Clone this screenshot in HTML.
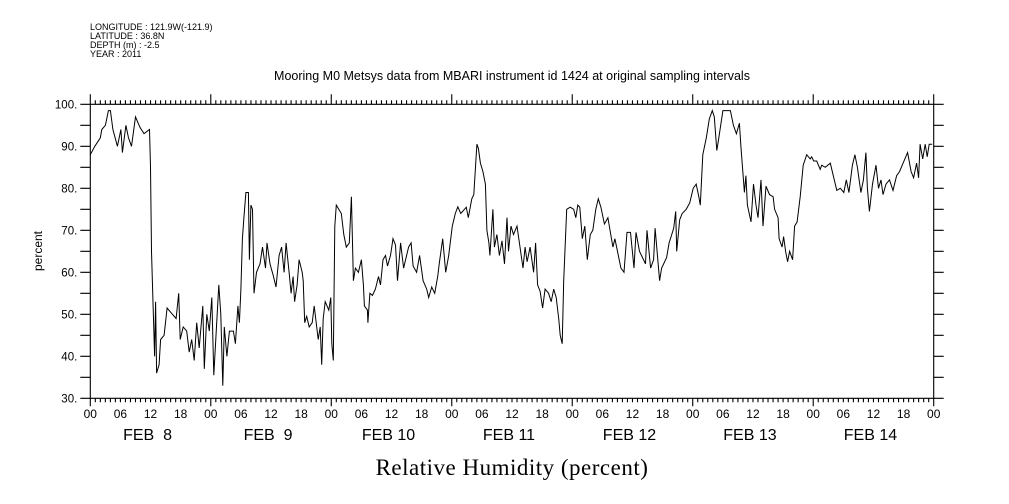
<!DOCTYPE html>
<html><head><meta charset="utf-8"><style>
body{margin:0;background:#fff;}
svg{display:block;font-family:"Liberation Sans",sans-serif;}
</style></head><body>
<svg id="chart" width="1009" height="504" viewBox="0 0 1009 504" xmlns="http://www.w3.org/2000/svg">
<rect width="1009" height="504" fill="#fff"/>
<g font-size="9" fill="#000">
<text x="90" y="30">LONGITUDE : 121.9W(-121.9)</text>
<text x="90" y="39">LATITUDE : 36.8N</text>
<text x="90" y="48">DEPTH (m) : -2.5</text>
<text x="90" y="57">YEAR : 2011</text>
</g>
<text x="512" y="80" font-size="12.5" text-anchor="middle">Mooring M0 Metsys data from MBARI instrument id 1424 at original sampling intervals</text>
<text x="0" y="0" font-size="12" text-anchor="middle" transform="translate(42,251) rotate(-90)">percent</text>
<text x="512" y="475" font-family="Liberation Serif,serif" font-size="23" text-anchor="middle" letter-spacing="0.5">Relative Humidity (percent)</text>
<g id="axes"></g>
<path id="line" fill="none" stroke="#000" stroke-width="1"/>
</svg>
<script>
const hours=[0,0.9,2,2.3,3,3.6,4,4.5,5.4,6.1,6.4,7.1,7.6,8.2,9,9.9,10.7,11.8,12,12.2,12.5,12.8,13,13.2,13.7,14,14.7,15.3,16,17.1,17.6,17.9,18.5,19.2,19.7,20.2,20.7,21.2,21.7,22.4,22.7,23.2,23.7,24.2,24.6,25.6,26,26.4,26.7,27.2,27.7,28.5,28.9,29.4,29.7,30,30.3,30.6,31,31.5,31.7,32,32.3,32.6,33.1,33.8,34.3,34.9,35.2,35.8,36.5,37,37.6,38.1,38.6,39,39.6,40,40.4,40.7,41.2,41.6,42.2,42.4,42.7,43.1,43.6,44.2,44.6,45.4,45.8,46.1,46.4,46.8,47.5,47.9,48.1,48.4,48.7,49,50,50.5,51,51.6,52,52.4,52.8,53.4,54,54.4,54.6,55.2,55.3,55.7,56.2,56.8,57.4,57.8,58.3,58.8,59.2,59.8,60.3,60.8,61.2,61.8,62.4,63,63.4,63.9,64.3,65,65.6,66.3,67,67.4,68,68.6,69.2,69.5,70.2,70.8,71.4,72.1,72.7,73.2,73.8,74.9,75.3,76,76.4,77,77.3,77.7,78.2,78.7,79,79.4,79.6,80.2,80.5,81,81.5,82,82.5,83,83.3,83.8,84.3,85,85.6,86.2,86.6,87,87.6,88.3,88.7,89.1,89.6,90.1,90.6,91.3,91.8,92.3,92.8,93.3,93.6,94,94.3,94.9,95.6,96.3,96.7,97.1,97.5,98,98.5,99,99.6,100.1,100.7,101.2,101.7,102.4,103.1,103.6,104.1,104.5,105.1,105.7,106.3,106.9,107.6,108.3,108.7,109.4,110,110.6,110.9,111.6,112.2,112.5,113.4,113.8,114.8,115.3,115.7,116.2,116.6,116.8,117.4,117.9,118.7,119.4,120.1,120.7,121.2,121.5,122,122.7,123.3,123.9,124.3,124.8,125.2,126,127.5,128.1,128.7,129.3,129.6,130.3,130.6,130.9,131.6,132.1,132.6,133,133.6,134,134.6,135.3,136,136.3,137,137.2,137.8,138.1,138.5,138.9,139.3,139.9,140.3,140.8,141.4,142,142.7,143.4,143.7,144.1,144.7,145.4,145.7,146.4,147.4,148,148.7,149.4,150.1,150.6,151.1,151.8,152.3,152.8,153.5,154,154.5,154.8,155.2,155.8,156.5,157,157.5,157.9,158.5,159.2,159.9,160.6,161.2,161.9,162.8,163.5,164,164.6,165,165.3,165.8,166.3,166.7,167.1,167.7];
const humidity=[88,90,92,94,95,98.5,98.5,94,90,94,88.5,95,92,90,97,94.5,93,94,85,65,52,40,53,36,38,44,45,51.5,50.5,49,55,44,47,46,41,44,39,48,42,52,37,50,46,54,35.5,57,50,33,47,40,46,46,43,52,48,56,68,73,79,79,63,76,75,55,60,62,66,61,67,62,59,56.5,64,66,60,67,60,55,59,53,57,63,60,58,48,49.5,47,48,52,44,47,38,49,53,51,54,43,39,71,76,74,69,66,67,78,58,61,60,63,57,52,51,48,55,54.5,56,59,57,63,64,61.5,64,68,66.5,58,67,61,64,66,67,61.5,60,64,58,56,54,56.5,55,59,62,68,60,64,71,74,75.6,74,75.5,73,77.5,78.5,90.5,89.5,86,84,81,70,67,64,75,66,69,64,67.5,62,73,65,71,69,71,66,61,66,62.5,66,60,67,57,55.5,51.5,56,55,53,56,54,49,45,43,58,75,75.5,75,73,76,75.5,68,71,63,69,70,75,77.5,75.5,71.5,73,69.5,66,68,64.5,61,60,69.5,69.5,61,69.5,65,63.5,62,70,61,63,70.5,58,61,63.5,67,68.5,70.5,74.5,65,72.5,74,75,76.5,80,81,78,76,88,92,96.5,98.5,97,89,92,98.5,98.5,95,93,95.5,90,79,83,76,72,81,76,73,82,71,80.5,78.5,78,75,73,68,66,68.5,65,62.5,65,63,71,72,78,85.5,88,87,87.5,86.5,86.5,84.5,85.5,85,86,83,79.5,80,79,82,79,85.5,88,85,79,82,88.5,80,74.5,81,85.5,80,82,78.5,81,82,79.5,83,84,86,88.5,84,82.5,86,82.5,90.5,87,90.5,87.5,90.5,90.5];
const yTicks=[30,35,40,45,50,55,60,65,70,75,80,85,90,95,100];
const yLabels=["30.","40.","50.","60.","70.","80.","90.","100."];
const hourLabels=["00","06","12","18"];
const dayLabels=["FEB  8","FEB  9","FEB 10","FEB 11","FEB 12","FEB 13","FEB 14"];
const X0=90.3,X1=933.7,Y0=398.3,Y1=104.3,HMAX=168,VMIN=30,VMAX=100;
function xs(h){return X0+(X1-X0)*h/HMAX;}
function ys(v){return Y0-(Y0-Y1)*(v-VMIN)/(VMAX-VMIN);}
const NS="http://www.w3.org/2000/svg";
const axes=document.getElementById('axes');
function mk(tag,attrs,parent){const e=document.createElementNS(NS,tag);for(const k in attrs)e.setAttribute(k,attrs[k]);(parent||axes).appendChild(e);return e;}
let d=`M${X0},${Y1}H${X1}M${X0},${Y0}H${X1}M${X0},${Y1-10}V${Y0}M${X1},${Y1-10}V${Y0}`;
yTicks.forEach(v=>{const y=ys(v);d+=`M${X0-10},${y}H${X0}M${X1},${y}H${X1+10}`;});
for(let h=0;h<=HMAX;h++){const x=xs(h);const major=h%24===0;
 d+=`M${x},${Y1}V${Y1-(major?10:4)}M${x},${Y0}V${Y0+(major?8:4)}`;}
const frame=mk('path',{d:d,stroke:'#000','stroke-width':1.1,fill:'none'});


yLabels.forEach(l=>{const t=mk('text',{x:X0-13,y:ys(parseFloat(l))+4,'font-size':11.5,'text-anchor':'end'});t.textContent=l;
 
 });
for(let h=0;h<=HMAX;h+=6){const t=mk('text',{x:xs(h),y:418,'font-size':12,'text-anchor':'middle'});t.textContent=hourLabels[(h/6)%4];
 
 }
dayLabels.forEach((l,i)=>{const t=mk('text',{x:xs(i*24+12)-3,y:440,'font-size':16,'text-anchor':'middle','xml:space':'preserve'});t.textContent=l;t.style.whiteSpace='pre';
 
 });
document.getElementById('line').setAttribute('d',hours.map((h,i)=>(i?'L':'M')+xs(h).toFixed(1)+','+ys(humidity[i]).toFixed(1)).join(''));
</script>
</body></html>
